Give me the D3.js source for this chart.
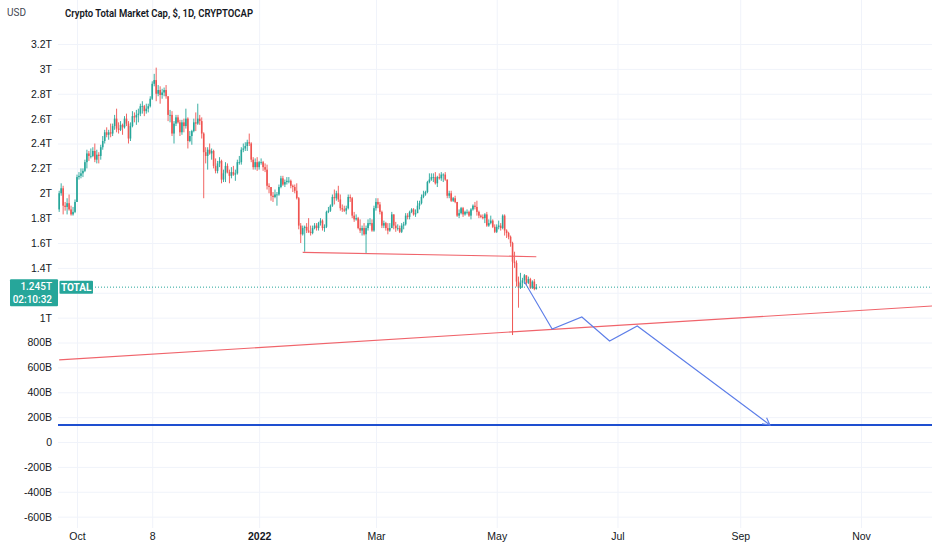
<!DOCTYPE html>
<html>
<head>
<meta charset="utf-8">
<script src="https://cdn.jsdelivr.net/npm/d3@7"></script>
<style>
  html, body { margin: 0; padding: 0; background: #ffffff; }
  svg { display: block; font-family: Roboto, "Noto Sans", sans-serif; }
</style>
</head>
<body>
<div id="chart"></div>
<script>
// Frame of the chart, pane is where candles live
const WIDTH = 932;
const HEIGHT = 550;
const PANE = { left: 58, right: 932, top: 0, bottom: 528 };
const UP_COLOR = "#26a69a";
const DOWN_COLOR = "#ef5350";

// ---- daily candles, values in billions USD (open = previous close) ----
const firstDay = "2021-09-22";
const firstOpen = 1870;

const closes = [
  // Sep 22 - 30
  2000,2040,1900,1890,1920,1870,1830,1850,1930,
  // Oct
  2130,2140,2160,2180,2250,2320,2300,2300,2340,2270,2310,2300,2370,2420,2490,2470,2490,2480,2540,2600,2520,2510,2550,2530,2600,2560,2440,2540,2620,2610,2630,
  // Nov
  2640,2700,2700,2660,2680,2700,2760,2880,2910,2800,2830,2790,2810,2830,2780,2630,2630,2480,2560,2610,2570,2490,2570,2540,2600,2420,2460,2500,2570,2560,
  // Dec
  2600,2580,2480,2330,2300,2350,2320,2340,2220,2180,2240,2260,2110,2160,2220,2170,2140,2170,2150,2160,2250,2250,2350,2360,2380,2410,2400,2270,2210,2250,2210,
  // Jan
  2250,2250,2210,2190,2060,2050,1980,1970,1990,1990,2050,2120,2070,2090,2100,2100,2060,2050,2020,1960,1740,1670,1720,1730,1700,1690,1680,1720,1740,1720,1760,
  // Feb
  1780,1720,1730,1850,1860,1900,1970,1960,2000,1950,1880,1870,1860,1880,1970,1960,1820,1790,1800,1720,1700,1720,1670,1720,1760,1760,1700,1880,
  // Mar
  1930,1910,1850,1740,1760,1720,1700,1720,1830,1740,1720,1720,1690,1740,1750,1820,1810,1850,1870,1830,1840,1900,1920,1970,1990,2010,2090,2110,2130,2130,2080,
  // Apr
  2130,2120,2150,2150,2110,1980,2000,1940,1960,1930,1820,1840,1880,1830,1850,1850,1820,1870,1900,1890,1850,1820,1810,1800,1830,1740,1760,1780,1730,1690,
  // May 1 - 21
  1730,1740,1720,1820,1700,1680,1650,1600,1450,1440,1290,1240,1280,1300,1340,1280,1310,1240,1290,1230,1245
];

const highs = [
  2020,2080,2060,1930,1960,1990,1900,1890,1950,
  2150,2170,2200,2200,2270,2350,2340,2360,2370,2400,2350,2330,2390,2460,2510,2530,2510,2560,2560,2630,2680,2570,2580,2560,2620,2640,2580,2570,2660,2650,2670,
  2680,2720,2740,2710,2720,2720,2780,2900,2960,3010,2870,2860,2840,2850,2870,2780,2670,2660,2580,2630,2630,2590,2590,2600,2680,2610,2500,2510,2600,2650,
  2720,2630,2610,2490,2370,2370,2400,2360,2350,2280,2260,2290,2270,2190,2250,2240,2190,2210,2220,2190,2270,2300,2370,2400,2410,2430,2480,2410,2290,2280,2290,
  2260,2280,2260,2240,2230,2080,2050,2010,2030,2010,2070,2140,2140,2110,2130,2130,2110,2070,2070,2080,1970,1760,1740,1740,1760,1800,1740,1740,1760,1760,1770,
  1800,1790,1750,1860,1890,1910,1990,2030,2020,2060,1990,1910,1900,1900,1990,1990,1970,1850,1830,1810,1790,1740,1760,1740,1790,1800,1790,1900,
  1960,1960,1930,1860,1780,1770,1760,1760,1850,1830,1770,1750,1740,1760,1770,1840,1840,1860,1880,1880,1870,1940,1940,1990,2020,2020,2100,2160,2160,2160,2170,
  2140,2160,2170,2160,2170,2110,2020,2020,1970,1980,1930,1870,1890,1890,1860,1870,1860,1880,1910,1930,1940,1860,1830,1830,1840,1850,1790,1820,1790,1750,
  1750,1780,1760,1830,1830,1710,1690,1660,1610,1530,1460,1330,1360,1320,1350,1340,1330,1320,1300,1310,1270
];

const lows = [
  1850,1980,1830,1860,1830,1860,1820,1820,1840,
  1930,2110,2120,2130,2170,2200,2260,2280,2290,2250,2240,2240,2270,2350,2400,2450,2430,2450,2460,2510,2490,2480,2500,2470,2520,2540,2400,2420,2530,2570,2550,
  2570,2620,2640,2620,2640,2650,2690,2750,2860,2740,2780,2720,2760,2780,2760,2580,2570,2460,2400,2540,2560,2460,2470,2490,2520,2360,2410,2390,2490,2500,
  2550,2550,2440,1960,2240,2190,2310,2270,2200,2160,2160,2210,2080,2090,2090,2160,2080,2120,2140,2100,2150,2230,2230,2330,2340,2340,2380,2250,2190,2190,2180,
  2190,2230,2180,2170,2030,2000,1940,1930,1960,1900,1980,2040,2060,2050,2070,2080,2040,2010,2000,1950,1710,1600,1660,1530,1680,1680,1660,1670,1710,1700,1700,
  1740,1700,1690,1720,1840,1850,1890,1910,1940,1930,1860,1850,1850,1830,1870,1930,1800,1770,1780,1710,1680,1660,1660,1520,1700,1740,1690,1690,
  1860,1880,1830,1720,1720,1700,1670,1690,1720,1710,1690,1700,1680,1680,1710,1740,1790,1790,1840,1820,1810,1840,1870,1910,1960,1980,2000,2080,2100,2090,2070,
  2050,2110,2100,2090,2100,1960,1960,1930,1930,1920,1810,1800,1830,1810,1820,1830,1810,1790,1860,1870,1820,1800,1800,1790,1760,1730,1730,1750,1720,1680,
  1680,1710,1700,1710,1660,1640,1630,1570,1430,1400,1250,1080,1230,1240,1270,1260,1270,1230,1230,1220,1225
];

// ---- user drawings: [date, value in billions] ----
const supportLine = [["2022-01-23", 1525], ["2022-05-21", 1490]];
const crashMark = [["2022-05-09", 1520], ["2022-05-09", 860]];
const trendLine = [["2021-09-22", 660], ["2022-12-07", 1094]];
const projection = [
  ["2022-05-15", 1289], ["2022-05-29", 909], ["2022-06-13", 1005],
  ["2022-06-27", 812], ["2022-07-11", 933], ["2022-09-16", 137]
];
const targetLevel = 137;

// ---- axes ----
const xTickDates = ["2021-10-01", "2021-11-08", "2022-01-01", "2022-03-01", "2022-05-01", "2022-07-01", "2022-09-01", "2022-11-01"];
const xTickLabels = ["Oct", "8", "2022", "Mar", "May", "Jul", "Sep", "Nov"];
// grid rows every 200B; the 1.2T label sits under the last price box so it is not shown
const yGridValues = [3200, 3000, 2800, 2600, 2400, 2200, 2000, 1800, 1600, 1400, 1200, 1000, 800, 600, 400, 200, 0, -200, -400, -600];
const yTickValues = [3200, 3000, 2800, 2600, 2400, 2200, 2000, 1800, 1600, 1400, 1000, 800, 600, 400, 200, 0, -200, -400, -600];
const yTickLabels = ["3.2T", "3T", "2.8T", "2.6T", "2.4T", "2.2T", "2T", "1.8T", "1.6T", "1.4T", "1T", "800B", "600B", "400B", "200B", "0", "-200B", "-400B", "-600B"];

const lastPriceText = "1.245T";
const countdownText = "02:10:32";
const symbolText = "TOTAL";
const titleText = "Crypto Total Market Cap, $, 1D, CRYPTOCAP";

const parseDay = d3.utcParse("%Y-%m-%d");

const x = d3.scaleUtc()
  .domain([parseDay("2021-10-01"), parseDay("2022-11-01")])
  .range([77, 861]);
const y = d3.scaleLinear()
  .domain([0, 3200])
  .range([442, 44]);

const svg = d3.select("#chart").append("svg")
  .attr("width", WIDTH)
  .attr("height", HEIGHT);

svg.append("defs").append("clipPath").attr("id", "pane")
  .append("rect")
  .attr("x", PANE.left).attr("y", PANE.top)
  .attr("width", PANE.right - PANE.left).attr("height", PANE.bottom - PANE.top);

// grid lines
const gridX = svg.append("g")
  .attr("transform", `translate(0,${PANE.bottom})`)
  .call(d3.axisBottom(x).tickValues(xTickDates.map(parseDay)).tickSize(-(PANE.bottom - PANE.top)).tickFormat(""));
gridX.select(".domain").remove();
gridX.selectAll("line").attr("stroke", "#f0f3fa");

const gridY = svg.append("g")
  .attr("transform", `translate(${PANE.left},0)`)
  .call(d3.axisLeft(y).tickValues(yGridValues).tickSize(-(PANE.right - PANE.left)).tickFormat(""));
gridY.select(".domain").remove();
gridY.selectAll("line").attr("stroke", "#f0f3fa");

// y axis labels
const yAxis = svg.append("g")
  .attr("transform", "translate(52,0)")
  .call(d3.axisLeft(y).tickValues(yTickValues).tickSize(0).tickPadding(0)
    .tickFormat((d, i) => yTickLabels[i]));
yAxis.select(".domain").remove();
yAxis.selectAll("text").attr("fill", "#131722").style("font-size", "10.5px");

// x axis labels
const xAxis = svg.append("g")
  .attr("transform", `translate(0,${PANE.bottom})`)
  .call(d3.axisBottom(x).tickValues(xTickDates.map(parseDay)).tickSize(0).tickPadding(5)
    .tickFormat((d, i) => xTickLabels[i]));
xAxis.select(".domain").remove();
xAxis.selectAll("text")
  .attr("fill", "#131722")
  .style("font-size", "10.5px")
  .style("font-weight", (d, i) => xTickLabels[i] === "2022" ? "700" : "400");

// candles
const candles = closes.map((c, i) => ({
  date: d3.utcDay.offset(parseDay(firstDay), i),
  open: i === 0 ? firstOpen : closes[i - 1],
  high: highs[i],
  low: lows[i],
  close: c
}));

const plot = svg.append("g").attr("clip-path", "url(#pane)");

const candle = plot.selectAll(".candle")
  .data(candles)
  .join("g")
  .attr("class", "candle")
  .attr("stroke", d => d.close >= d.open ? UP_COLOR : DOWN_COLOR)
  .attr("fill", d => d.close >= d.open ? UP_COLOR : DOWN_COLOR);

candle.append("line")
  .attr("x1", d => x(d.date)).attr("x2", d => x(d.date))
  .attr("y1", d => y(d.high)).attr("y2", d => y(d.low))
  .attr("stroke-width", 0.9);

candle.append("rect")
  .attr("stroke", "none")
  .attr("x", d => x(d.date) - 0.8)
  .attr("width", 1.6)
  .attr("y", d => y(Math.max(d.open, d.close)))
  .attr("height", d => Math.max(0.8, Math.abs(y(d.open) - y(d.close))));

// drawings
const drawLine = d3.line()
  .x(d => x(parseDay(d[0])))
  .y(d => y(d[1]));

plot.append("path").datum(trendLine)
  .attr("d", drawLine).attr("fill", "none")
  .attr("stroke", "#f0646b").attr("stroke-width", 1.1);

plot.append("path").datum(supportLine)
  .attr("d", drawLine).attr("fill", "none")
  .attr("stroke", "#f0646b").attr("stroke-width", 1.1);

plot.append("path").datum(crashMark)
  .attr("d", drawLine).attr("fill", "none")
  .attr("stroke", "#ef5350").attr("stroke-width", 1);

plot.append("line")
  .attr("x1", PANE.left).attr("x2", PANE.right)
  .attr("y1", y(targetLevel)).attr("y2", y(targetLevel))
  .attr("stroke", "#1e4fd0").attr("stroke-width", 2);

plot.append("path").datum(projection)
  .attr("d", drawLine).attr("fill", "none")
  .attr("stroke", "#5d7ee8").attr("stroke-width", 1.1);

// arrow head at the end of the projection
const tip = projection[projection.length - 1];
const prev = projection[projection.length - 2];
const tx = x(parseDay(tip[0])), ty = y(tip[1]);
const ang = Math.atan2(ty - y(prev[1]), tx - x(parseDay(prev[0])));
const headLen = 8;
plot.append("path")
  .attr("d", `M${tx - headLen * Math.cos(ang - 0.5)},${ty - headLen * Math.sin(ang - 0.5)}L${tx},${ty}L${tx - headLen * Math.cos(ang + 0.5)},${ty - headLen * Math.sin(ang + 0.5)}`)
  .attr("fill", "none")
  .attr("stroke", "#5d7ee8").attr("stroke-width", 1.1);

// last price line and labels
const lastClose = closes[closes.length - 1];
const py = y(lastClose);

svg.append("line")
  .attr("x1", 95).attr("x2", PANE.right)
  .attr("y1", py).attr("y2", py)
  .attr("stroke", UP_COLOR).attr("stroke-width", 1)
  .attr("stroke-dasharray", "1,2");

svg.append("rect")
  .attr("x", 10).attr("y", py - 8)
  .attr("width", 48).attr("height", 27).attr("rx", 1)
  .attr("fill", UP_COLOR);
svg.append("text")
  .attr("x", 52).attr("y", py + 3.3)
  .attr("text-anchor", "end")
  .attr("fill", "#ffffff").style("font-size", "10px").style("font-weight", "500")
  .text(lastPriceText);
svg.append("text")
  .attr("x", 52).attr("y", py + 16)
  .attr("text-anchor", "end")
  .attr("fill", "#ffffff").style("font-size", "10px").style("font-weight", "500")
  .text(countdownText);

svg.append("rect")
  .attr("x", 59.5).attr("y", py - 6.5)
  .attr("width", 33.5).attr("height", 13).attr("rx", 1)
  .attr("fill", UP_COLOR);
svg.append("text")
  .attr("x", 76.2).attr("y", py + 3.5)
  .attr("text-anchor", "middle")
  .attr("fill", "#ffffff").style("font-size", "10px").style("font-weight", "700")
  .text(symbolText);

// header
svg.append("text")
  .attr("x", 7).attr("y", 16)
  .attr("fill", "#434651").style("font-size", "10px")
  .text("USD");
svg.append("text")
  .attr("x", 65).attr("y", 17)
  .attr("fill", "#131722").style("font-size", "11px").style("font-weight", "600")
  .attr("textLength", 188).attr("lengthAdjust", "spacingAndGlyphs")
  .text(titleText);
</script>
</body>
</html>
